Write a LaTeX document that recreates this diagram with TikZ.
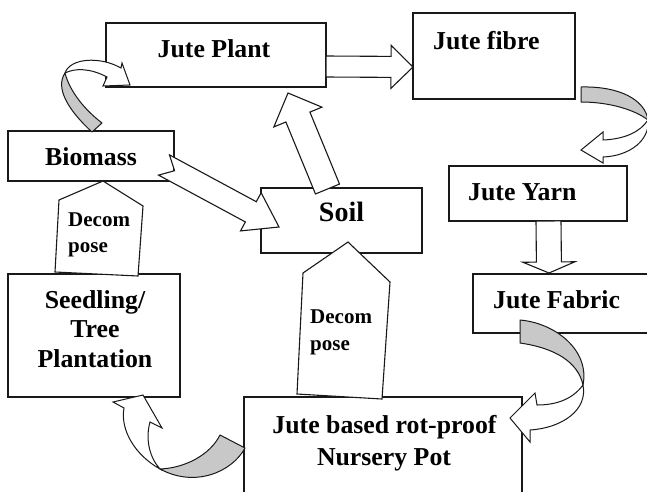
\documentclass[tikz,border=0pt]{standalone}
\usepackage{fontspec}
\setmainfont{Liberation Serif}
\usetikzlibrary{calc}
\definecolor{bandgray}{RGB}{200,200,200}
\definecolor{linecol}{RGB}{25,25,25}
% #1 tail, #2 tip, #3 shaft half width, #4 head half width, #5 head length, #6 tail notch depth
\newcommand\blockarrow[6]{%
  \coordinate (bh) at ($(#2)!#5!(#1)$);
  \draw[barrow] ($(#1)!#3!90:(#2)$) -- ($(bh)!#3!-90:(#1)$) -- ($(bh)!#4!-90:(#1)$) -- (#2)
     -- ($(bh)!#4!90:(#1)$) -- ($(bh)!#3!90:(#1)$) -- ($(#1)!#3!-90:(#2)$) -- ($(#1)!#6!(#2)$) -- cycle;}
\begin{document}
\begin{tikzpicture}[x=1pt,y=-1pt,
  box/.style={draw=linecol, line width=1.2pt, fill=white, inner sep=0pt, outer sep=0pt, anchor=north west},
  barrow/.style={draw=linecol, line width=1.1pt, fill=white, line join=miter},
  band/.style={draw=linecol, line width=1pt, fill=bandgray, line join=round},
  wband/.style={draw=linecol, line width=1pt, fill=white, line join=miter},
  lbl/.style={font=\fontsize{25.8}{30}\selectfont\bfseries, inner sep=0pt, anchor=base},
  small/.style={font=\fontsize{21}{25}\selectfont\bfseries, inner sep=0pt, anchor=base west}]
\useasboundingbox (0,0) rectangle (647,491);
\fill[white] (0,0) rectangle (647,491);
\clip (0,0) rectangle (647,491);

% boxes
\node[box, minimum width=220pt, minimum height=64pt] (plant) at (106,23) {};
\node[box, minimum width=162pt, minimum height=86pt] (fibre) at (413,13) {};
\node[box, minimum width=166pt, minimum height=50pt] (biomass) at (8,131) {};
\node[box, minimum width=161pt, minimum height=65pt] (soil) at (261,188) {};
\node[box, minimum width=178pt, minimum height=55pt] (yarn) at (449,166) {};
\node[box, minimum width=190pt, minimum height=59pt] (fabric) at (473,274) {};
\node[box, minimum width=172pt, minimum height=123pt] (seed) at (8,274) {};
\node[box, minimum width=278pt, minimum height=110pt] (pot) at (244,397) {};

% labels
\node[lbl] (tplant) at (214,57) {Jute Plant};
\node[lbl, anchor=base west] (tfibre) at (433,49) {Jute fibre};
\node[lbl] (tbio) at (91,165) {Biomass};
\node[lbl, font=\fontsize{28}{32}\selectfont\bfseries] (tsoil) at (341.5,221) {Soil};
\node[lbl, anchor=base west] (tyarn) at (468,200) {Jute Yarn};
\node[lbl, anchor=base west] (tfab) at (493,308) {Jute Fabric};
\node[lbl] (tseed1) at (95,308) {Seedling/};
\node[lbl] (tseed2) at (95,337) {Tree};
\node[lbl] (tseed3) at (95,367) {Plantation};
\node[lbl] (tpot1) at (384.5,433) {Jute based rot-proof};
\node[lbl] (tpot2) at (384,465) {Nursery Pot};

% straight block arrows
\coordinate (a1s) at (326,66.5);
\coordinate (a1e) at (413,67);
\blockarrow{a1s}{a1e}{10.5pt}{21.5pt}{22pt}{0pt}
\coordinate (a3s) at (548.5,221);
\coordinate (a3e) at (549,273);
\blockarrow{a3s}{a3e}{12.5pt}{26pt}{11pt}{0pt}
\coordinate (a7s) at (164,165);
\coordinate (a7e) at (279,227);
\blockarrow{a7s}{a7e}{11.5pt}{21.7pt}{32pt}{12pt}
\coordinate (a8s) at (327.5,189);
\coordinate (a8e) at (288,93);
\blockarrow{a8s}{a8e}{13pt}{26pt}{26pt}{0pt}

% decompose pentagons
\draw[barrow] (103,181) -- (143,206) -- (138,276) -- (55,272) -- (59,200) -- cycle;
\node[small] (dec1a) at (68,226) {Decom};
\node[small] (dec1b) at (68,252) {pose};
\draw[barrow] (348,242) -- (390,282) -- (382,399) -- (297,394) -- (303,273) -- cycle;
\node[small] (dec2a) at (310,323) {Decom};
\node[small] (dec2b) at (310,350) {pose};

% curved arrow: Biomass -> Jute Plant
\draw[band] (92,132) .. controls (68,110) and (55,88) .. (65,73)
   .. controls (70,92) and (85,110) .. (102,123) -- cycle;
\draw[wband] (65,73) .. controls (70,58) and (100,56) .. (121,68) -- (122,63) -- (130,85)
   -- (103,86) -- (107,77) .. controls (90,68) and (75,68) .. (65,73) -- cycle;

% curved arrow: Jute fibre -> Jute Yarn
\draw[band] (581,87) .. controls (620,86) and (645,100) .. (648,120)
   .. controls (635,110) and (610,102) .. (581,102) -- cycle;
\draw[wband] (648,120) .. controls (640,132) and (625,139) .. (603,140) -- (603,132) -- (581,150)
   -- (603,163) -- (603,157) .. controls (630,156) and (650,140) .. (648,120) -- cycle;

% curved arrow: Jute Fabric -> Nursery Pot
\draw[band] (520,320) .. controls (555,323) and (590,350) .. (583,385)
   .. controls (578,362) and (555,348) .. (520,343) -- cycle;
\draw[wband] (583,385) .. controls (572,400) and (555,405) .. (537,405) -- (535,393) -- (510,418)
   -- (530,442) -- (530,430) .. controls (562,428) and (588,410) .. (583,385) -- cycle;

% curved arrow: Nursery Pot -> Seedling
\draw[band] (160,469) .. controls (185,468) and (210,455) .. (220,435) -- (245,448)
   .. controls (232,472) and (195,488) .. (160,469) -- cycle;
\draw[wband] (160,469) .. controls (135,455) and (120,430) .. (124,408) -- (113,402) -- (143,395)
   -- (162,428) -- (150,422) .. controls (145,440) and (150,458) .. (160,469) -- cycle;
\end{tikzpicture}
\end{document}
